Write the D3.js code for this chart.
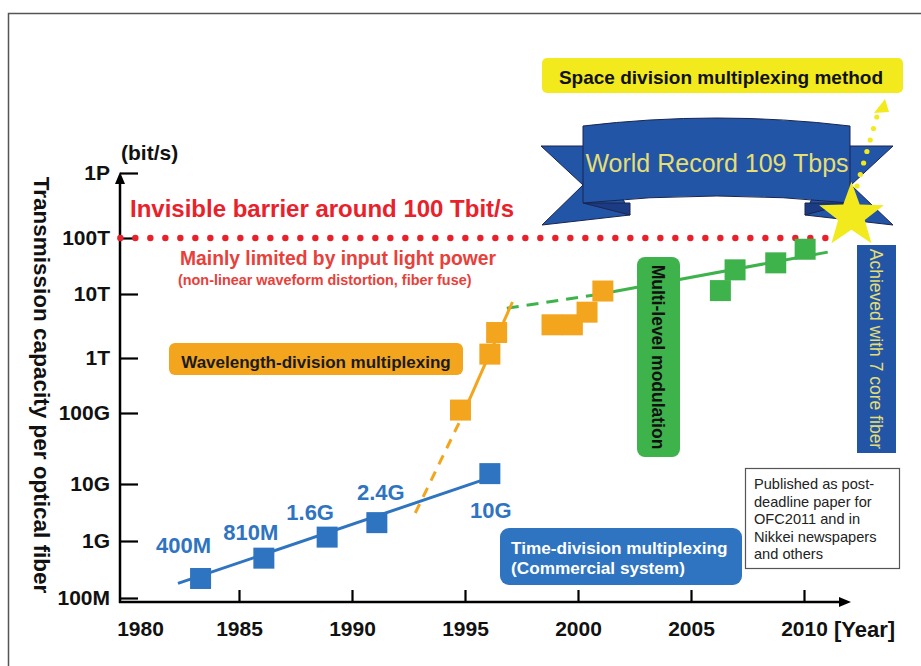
<!DOCTYPE html>
<html>
<head>
<meta charset="utf-8">
<style>
body { margin: 0; background: #fff; }
svg text { font-family: "Liberation Sans", Arial, sans-serif; }
.axis path { display: none; }
.axis line { stroke: #000; stroke-width: 2.2px; }
.axis text { font-size: 21px; font-weight: bold; fill: #111; }
</style>
</head>
<body>
<svg id="chart" width="921" height="666"></svg>
<script src="https://d3js.org/d3.v7.min.js"></script>
<script>

// axis ticks
var capTicks  = [1e8, 1e9, 1e10, 1e11, 1e12, 1e13, 1e14, 1e15];
var capLabels = ["100M", "1G", "10G", "100G", "1T", "10T", "100T", "1P"];
var yearTicks = [1980, 1985, 1990, 1995, 2000, 2005, 2010];

// time-division multiplexing (blue)
var tdmYears  = [1983.3, 1986.1, 1988.9, 1991.1, 1996.1];
var tdmCap    = [2.2e8, 5.0e8, 1.17e9, 2.1e9, 1.4e10];
var tdmLabels = ["400M", "810M", "1.6G", "2.4G", "10G"];
var tdmLineYears = [1982.3, 1996.0];
var tdmLineCap   = [1.8e8, 1.2e10];

// wavelength-division multiplexing (orange)
var wdmYears = [1994.8, 1996.1, 1996.4, 1998.85, 1999.75, 2000.4, 2001.1];
var wdmCap   = [1.13e11, 1.15e12, 2.5e12, 3.3e12, 3.3e12, 5.2e12, 1.13e13];
var wdmLineYears = [1994.8, 1997.1];
var wdmLineCap   = [8.0e10, 7.5e12];
var wdmDashYears = [1992.8, 1994.8];
var wdmDashCap   = [3.1e9, 8.0e10];

// multi-level modulation (green)
var mlmYears = [2006.3, 2006.95, 2008.75, 2010.05];
var mlmCap   = [1.15e13, 2.7e13, 3.6e13, 6.3e13];
var mlmDashYears = [1996.85, 2001.0];
var mlmDashCap   = [6.0e12, 1.0e13];
var mlmLineYears = [2001.0, 2011.05];
var mlmLineCap   = [1.0e13, 5.6e13];

// 100T barrier and the record
var barrierCap   = 1e14;
var barrierYears = [1979.75, 2011.3];
var recordYear = 2012.1, recordCap = 2.2e14;

var blue = "#2f74c0", orange = "#f3a51d", green = "#3eb24b", red = "#e9212a",
    navy = "#2355a6", yellow = "#f2ea1d";

var svg = d3.select("#chart");

// frame
svg.append("path").attr("d", "M8.5,666V13.5H921")
  .attr("fill", "none").attr("stroke", "#555").attr("stroke-width", 1.5);

// scales (hand drawn axis: decades not evenly spaced)
var x = d3.scaleLinear().domain([1980, 2010]).range([126, 804]);
var y = d3.scaleLog().domain(capTicks).range([598, 541, 484, 413, 358, 294, 238, 173]);
var axisX = 120, axisY = 602;

function sq(g, years, caps, color) {
  g.selectAll(null).data(years).enter().append("rect")
    .attr("x", function(d) { return x(d) - 10.5; })
    .attr("y", function(d, i) { return y(caps[i]) - 10.5; })
    .attr("width", 21).attr("height", 21)
    .attr("fill", color);
}
function seg(g, years, caps, color, dash) {
  g.append("path")
    .attr("d", d3.line()(years.map(function(d, i) { return [x(d), y(caps[i])]; })))
    .attr("stroke", color).attr("stroke-width", 3).attr("fill", "none")
    .attr("stroke-dasharray", dash || null);
}
function txt(g, tx, ty, s, size, weight, fill, anchor) {
  return g.append("text").attr("x", tx).attr("y", ty).text(s)
    .attr("font-size", size).attr("font-weight", weight)
    .attr("fill", fill).attr("text-anchor", anchor || "start");
}
function box(g, bx, by, w, h, fill, r) {
  return g.append("rect").attr("x", bx).attr("y", by).attr("width", w).attr("height", h)
    .attr("rx", r).attr("fill", fill);
}

// axes
var ya = svg.append("g").attr("class", "axis")
  .attr("transform", "translate(" + axisX + ",0)")
  .call(d3.axisLeft(y).tickValues(capTicks).tickSize(-18).tickPadding(10)
    .tickFormat(function(d, i) { return capLabels[i]; }));

var xa = svg.append("g").attr("class", "axis")
  .attr("transform", "translate(0," + axisY + ")")
  .call(d3.axisBottom(x).tickValues(yearTicks).tickSize(-12).tickPadding(19)
    .tickFormat(d3.format("d")));
xa.selectAll(".tick text").attr("font-size", 22);
xa.selectAll(".tick").filter(function(d) { return d === 1980; })
  .call(function(t) { t.select("line").remove(); t.select("text").attr("dx", 14); });

svg.append("line").attr("x1", axisX).attr("x2", axisX).attr("y1", axisY + 1).attr("y2", 180)
  .attr("stroke", "#000").attr("stroke-width", 2.5);
svg.append("path").attr("d", "M" + axisX + ",172l-5,12h10z").attr("fill", "#000");
svg.append("line").attr("x1", axisX - 1).attr("x2", 842).attr("y1", axisY).attr("y2", axisY)
  .attr("stroke", "#000").attr("stroke-width", 2.5);
svg.append("path").attr("d", "M851," + axisY + "l-12,-5v10z").attr("fill", "#000");

txt(svg, 121, 160, "(bit/s)", 21, "bold", "#111");
txt(svg, 834, 637, "[Year]", 22, "bold", "#111");
svg.append("text").text("Transmission capacity per optical fiber")
  .attr("transform", "translate(42,385) rotate(90)").attr("dy", "0.35em")
  .attr("text-anchor", "middle").attr("font-size", 22.5).attr("font-weight", "bold")
  .attr("fill", "#111");

// barrier dots
var bx0 = x(barrierYears[0]), bx1 = x(barrierYears[1]);
svg.selectAll(null).data(d3.range(bx0, bx1, 15)).enter().append("circle")
  .attr("cx", function(d) { return d; }).attr("cy", y(barrierCap)).attr("r", 3.2)
  .attr("fill", red);

txt(svg, 130, 217, "Invisible barrier around 100 Tbit/s", 24, "bold", red);
txt(svg, 180, 265, "Mainly limited by input light power", 19.3, "bold", "#e8403a");
txt(svg, 178, 285, "(non-linear waveform distortion, fiber fuse)", 14.4, "bold", "#e8403a");

// trend lines
var gl = svg.append("g");
seg(gl, wdmDashYears, wdmDashCap, orange, "10,8");
seg(gl, mlmDashYears, mlmDashCap, green, "12,8");
seg(gl, mlmLineYears, mlmLineCap, green);
seg(gl, wdmLineYears, wdmLineCap, orange);
seg(gl, tdmLineYears, tdmLineCap, blue);

// squares
sq(svg.append("g"), tdmYears, tdmCap, blue);
sq(svg.append("g"), wdmYears, wdmCap, orange);
sq(svg.append("g"), mlmYears, mlmCap, green);

// TDM labels
var tdmLabelOffsets = [[-17, -25], [-13, -18], [-17, -17], [4, -23], [1, 44]];
svg.append("g").selectAll("text").data(tdmLabels).enter().append("text")
  .attr("x", function(d, i) { return x(tdmYears[i]) + tdmLabelOffsets[i][0]; })
  .attr("y", function(d, i) { return y(tdmCap[i]) + tdmLabelOffsets[i][1]; })
  .attr("text-anchor", "middle").attr("font-size", 22).attr("font-weight", "bold")
  .attr("fill", blue).text(function(d) { return d; });

// annotation boxes
box(svg, 169, 343, 294, 32, orange, 6);
txt(svg, 316, 368, "Wavelength-division multiplexing", 17, "bold", "#1a1a1a", "middle");

box(svg, 637, 257, 43, 200, green, 8);
svg.append("text").text("Multi-level modulation")
  .attr("transform", "translate(658,357) rotate(90)").attr("dy", "0.35em")
  .attr("text-anchor", "middle").attr("font-size", 17.5).attr("font-weight", "bold")
  .attr("fill", "#111");

box(svg, 857, 245, 39, 208, navy, 0);
svg.append("text").text("Achieved with 7 core fiber")
  .attr("transform", "translate(876,349) rotate(90)").attr("dy", "0.35em")
  .attr("text-anchor", "middle").attr("font-size", 17.5)
  .attr("fill", "#e4de74");

box(svg, 500, 528, 242, 57, blue, 9);
txt(svg, 511, 554, "Time-division multiplexing", 17.2, "bold", "#fff");
txt(svg, 511, 574, "(Commercial system)", 17.2, "bold", "#fff");

svg.append("rect").attr("x", 745.5).attr("y", 468.5).attr("width", 154).attr("height", 100)
  .attr("fill", "#fff").attr("stroke", "#555").attr("stroke-width", 1.2);
["Published as post-", "deadline paper for", "OFC2011 and in", "Nikkei newspapers", "and others"]
  .forEach(function(s, i) { txt(svg, 754, 489 + i * 17.5, s, 14.6, "normal", "#222"); });

// banner
var bn = svg.append("g").attr("stroke", "#1a2550").attr("stroke-width", 1);
bn.append("path").attr("d", "M541,146L600,146L630,215L542,225L583,185Z").attr("fill", navy);
bn.append("path").attr("d", "M893,146L834,146L805,215L893,225L851,185Z").attr("fill", navy);
bn.append("path").attr("d", "M583,203L630,203L630,215Z").attr("fill", "#1b3c82");
bn.append("path").attr("d", "M850,203L805,203L805,215Z").attr("fill", "#1b3c82");
bn.append("path").attr("d", "M583,126Q717,110 850,126L850,203Q717,189 583,203Z").attr("fill", navy);
txt(svg, 717, 172, "World Record 109 Tbps", 25, "normal", "#e4de74", "middle");

// space division box
box(svg, 542, 58, 361, 35, yellow, 5);
txt(svg, 721, 84, "Space division multiplexing method", 19, "bold", "#111", "middle");

// dotted arrow up from the star
svg.selectAll(null).data(d3.range(0, 7)).enter().append("circle")
  .attr("cx", function(d) { return 857 + d * 3.3; })
  .attr("cy", function(d) { return 186 - d * 11.5; })
  .attr("r", 2.6).attr("fill", yellow);
svg.append("path").attr("d", "M885,99L874,113L889,112Z").attr("fill", yellow);

// star at the record
var sx = x(recordYear), sy = y(recordCap);
var starPts = d3.range(10).map(function(i) {
  var a = -Math.PI / 2 + i * Math.PI / 5, r = i % 2 ? 14 : 34;
  return [sx + r * Math.cos(a), sy + r * Math.sin(a)];
});
svg.append("path").attr("d", d3.line()(starPts) + "Z").attr("fill", yellow);

</script>
</body>
</html>
